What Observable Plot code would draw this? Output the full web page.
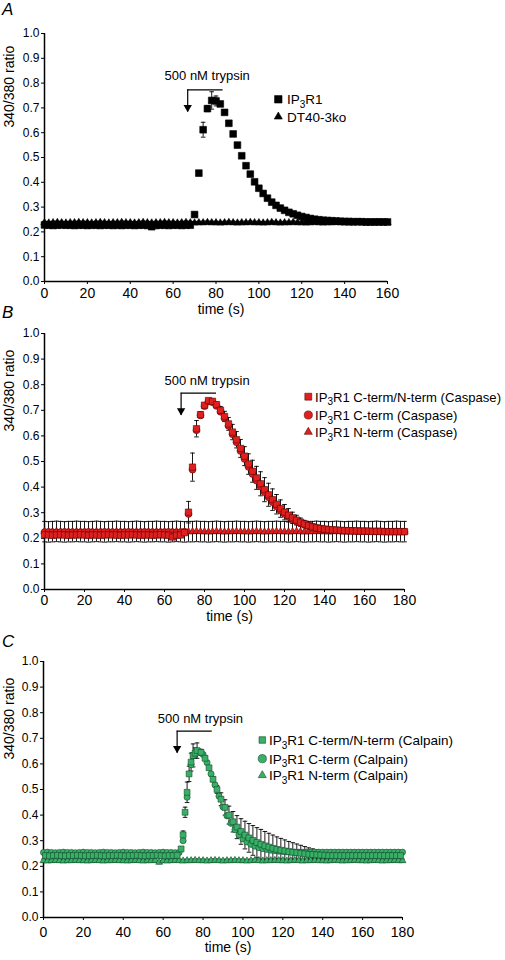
<!DOCTYPE html>
<html><head><meta charset="utf-8">
<script src="https://cdn.jsdelivr.net/npm/d3@7"></script>
<script src="https://cdn.jsdelivr.net/npm/@observablehq/plot@0.6"></script>
<style>
body{margin:0;background:#fff;}
#chart{position:relative;width:505px;height:960px;overflow:hidden;font-family:"Liberation Sans",Arial,sans-serif;}
#chart svg{position:absolute;left:0;}
</style></head><body><div id="chart"></div>
<script>
// ---------- shared ticks ----------
const yTicks = [0.0,0.1,0.2,0.3,0.4,0.5,0.6,0.7,0.8,0.9,1.0];
const xTicksA = [0,20,40,60,80,100,120,140,160];
const xTicksBC = [0,20,40,60,80,100,120,140,160,180];

// ---------- Panel A (time 0..160 s, every 2 s) ----------
const timeA = d3.range(0, 161, 2);
const ip3r1A = [0.228,0.227,0.226,0.227,0.228,0.227,0.227,0.226,0.227,0.227,
 0.226,0.227,0.227,0.226,0.227,0.227,0.226,0.227,0.226,0.227,
 0.227,0.226,0.227,0.227,0.226,0.221,0.226,0.227,0.227,0.226,
 0.227,0.227,0.226,0.227,0.227,
 0.270,0.437,0.612,0.697,0.730,0.728,0.716,0.682,0.638,0.595,
 0.550,0.507,0.467,0.433,0.402,0.376,0.355,0.336,0.320,0.307,
 0.296,0.287,0.279,0.273,0.267,0.262,0.258,0.254,0.251,0.249,
 0.247,0.246,0.245,0.244,0.243,0.242,0.242,0.241,0.241,0.241,
 0.240,0.240,0.240,0.240,0.240,0.240];
const ip3r1ErrA = [0.004,0.004,0.004,0.004,0.004,0.004,0.004,0.004,0.004,0.004,
 0.004,0.004,0.004,0.004,0.004,0.004,0.004,0.004,0.004,0.004,
 0.004,0.004,0.004,0.004,0.004,0.004,0.004,0.004,0.004,0.004,
 0.004,0.004,0.004,0.004,0.004,
 0.006,0.010,0.030,0.012,0.035,0.020,0.010,0.008,0.008,0.006,
 0.006,0.006,0.006,0.006,0.006,0.006,0.006,0.006,0.006,0.006,
 0.005,0.005,0.005,0.005,0.005,0.005,0.005,0.005,0.005,0.005,
 0.004,0.004,0.004,0.004,0.004,0.004,0.004,0.004,0.004,0.004,
 0.004,0.004,0.004,0.004,0.004,0.004];
const dt40A = [0.237,0.236,0.237,0.238,0.237,0.236,0.237,0.237,0.238,0.237,
 0.237,0.236,0.237,0.238,0.237,0.236,0.237,0.237,0.238,0.237,
 0.237,0.236,0.237,0.238,0.237,0.236,0.237,0.237,0.238,0.237,
 0.237,0.236,0.237,0.238,0.237,0.236,0.237,0.237,0.238,0.237,
 0.237,0.236,0.237,0.238,0.237,0.236,0.237,0.237,0.238,0.237,
 0.237,0.236,0.237,0.238,0.237,0.236,0.237,0.237,0.238,0.237,
 0.237,0.236,0.237,0.238,0.237,0.236,0.237,0.237,0.238,0.237,
 0.237,0.236,0.237,0.238,0.237,0.236,0.237,0.237,0.238,0.237,
 0.237];
const dt40ErrA = 0.006;

// ---------- Panel B (Caspase, time 0..180 s, every 2 s) ----------
const timeB = d3.range(0, 181, 2);
const cnB = [0.214,0.213,0.212,0.213,0.214,0.213,0.212,0.213,0.213,0.214,
 0.213,0.212,0.213,0.213,0.212,0.213,0.214,0.213,0.213,0.212,
 0.213,0.213,0.214,0.213,0.212,0.213,0.213,0.212,0.213,0.214,
 0.213,0.212,0.205,0.212,0.213,0.222,
 0.302,0.478,0.628,0.683,0.720,0.738,0.735,0.722,0.700,0.676,
 0.647,0.615,0.585,0.551,0.521,0.490,0.462,0.436,0.413,0.390,
 0.370,0.351,0.333,0.316,0.302,0.290,0.280,0.271,0.263,0.256,
 0.250,0.245,0.241,0.238,0.236,0.234,0.233,0.232,0.231,0.230,
 0.230,0.229,0.229,0.228,0.228,0.228,0.227,0.227,0.227,0.226,
 0.226,0.226,0.226,0.226,0.226];
const cnErrB = [0.005,0.005,0.005,0.005,0.005,0.005,0.005,0.005,0.005,0.005,
 0.005,0.005,0.005,0.005,0.005,0.005,0.005,0.005,0.005,0.005,
 0.005,0.005,0.005,0.005,0.005,0.005,0.005,0.005,0.005,0.005,
 0.005,0.005,0.005,0.005,0.005,0.005,
 0.042,0.055,0.032,0.012,0.008,0.008,0.008,0.010,0.015,0.020,
 0.025,0.030,0.032,0.035,0.037,0.040,0.043,0.045,0.047,0.047,
 0.045,0.042,0.038,0.034,0.030,0.026,0.022,0.019,0.016,0.014,
 0.012,0.011,0.010,0.009,0.008,0.008,0.008,0.008,0.008,0.008,
 0.008,0.008,0.008,0.008,0.008,0.008,0.008,0.008,0.008,0.008,
 0.008,0.008,0.008,0.008,0.008];
const ctB = [0.224,0.225,0.224,0.223,0.224,0.225,0.224,0.224,0.223,0.224,
 0.224,0.225,0.224,0.223,0.224,0.225,0.224,0.224,0.223,0.224,
 0.224,0.225,0.224,0.223,0.224,0.225,0.224,0.224,0.223,0.224,
 0.224,0.225,0.224,0.223,0.224,0.226,
 0.295,0.468,0.622,0.680,0.716,0.734,0.731,0.717,0.694,0.669,
 0.639,0.606,0.575,0.541,0.510,0.479,0.451,0.425,0.402,0.380,
 0.360,0.341,0.324,0.308,0.295,0.283,0.273,0.265,0.258,0.252,
 0.247,0.243,0.239,0.237,0.235,0.233,0.232,0.231,0.230,0.230,
 0.229,0.229,0.228,0.228,0.228,0.227,0.227,0.227,0.227,0.226,
 0.226,0.226,0.226,0.226,0.226];
const ctErrB = 0.006;
const ntB = [0.226,0.225,0.226,0.227,0.226,0.225,0.226,0.226,0.227,0.226,
 0.226,0.225,0.226,0.227,0.226,0.225,0.226,0.226,0.227,0.226,
 0.226,0.225,0.226,0.227,0.226,0.225,0.226,0.226,0.227,0.226,
 0.226,0.225,0.226,0.227,0.226,0.225,0.226,0.226,0.227,0.226,
 0.226,0.225,0.226,0.227,0.226,0.225,0.226,0.226,0.227,0.226,
 0.226,0.225,0.226,0.227,0.226,0.225,0.226,0.226,0.227,0.226,
 0.226,0.225,0.226,0.227,0.226,0.225,0.226,0.226,0.227,0.226,
 0.226,0.225,0.226,0.227,0.226,0.225,0.226,0.226,0.227,0.226,
 0.226,0.225,0.226,0.227,0.226,0.225,0.226,0.226,0.227,0.226,
 0.226];
const ntErrB = 0.040;

// ---------- Panel C (Calpain) ----------
const timeC = d3.range(0, 181, 2);      // circles, triangles
const timeSqC = [1,3,5,7,9,11,13,15,17,19,21,23,25,27,29,31,33,35,37,39,41,43,45,47,49,51,53,55,57,59,61,63,65,67,
 69,70,71,72,73,74,75,76,77,
 79,81,83,85,87,89,91,93,95,97,99,101,103,105,107,109,111,113,115,117,119,121,123,125,127,129,131,133,135,137,139,141,
 143,145,147,149,151,153,155,157,159,161,163,165,167,169,171,173,175,177,179];
const cnC = [0.242,0.241,0.242,0.243,0.242,0.241,0.242,0.242,0.243,0.242,
 0.241,0.242,0.242,0.243,0.242,0.241,0.242,0.242,0.243,0.242,
 0.241,0.242,0.242,0.243,0.242,0.241,0.242,0.242,0.243,0.242,
 0.241,0.242,0.242,0.243,
 0.268,0.323,0.411,0.489,0.561,0.607,0.633,0.642,0.652,
 0.645,0.622,0.585,0.540,0.500,0.462,0.430,0.400,0.374,0.353,
 0.336,0.322,0.311,0.301,0.293,0.286,0.280,0.275,0.270,0.266,
 0.263,0.260,0.257,0.255,0.253,0.251,0.249,0.247,0.246,0.245,
 0.244,0.243,
 0.242,0.242,0.242,0.242,0.242,0.242,0.242,0.242,0.242,0.242,
 0.242,0.242,0.242,0.242,0.242,0.242,0.242,0.242,0.242];
const cnErrC = [0.005,0.005,0.005,0.005,0.005,0.005,0.005,0.005,0.005,0.005,
 0.005,0.005,0.005,0.005,0.005,0.005,0.005,0.005,0.005,0.005,
 0.005,0.005,0.005,0.005,0.005,0.005,0.005,0.005,0.005,0.005,
 0.005,0.005,0.005,0.005,
 0.008,0.015,0.020,0.040,0.030,0.035,0.045,0.020,0.030,
 0.012,0.008,0.008,0.010,0.015,0.025,0.030,0.035,0.040,0.045,
 0.050,0.054,0.056,0.058,0.058,0.058,0.056,0.054,0.052,0.049,
 0.046,0.043,0.040,0.037,0.034,0.031,0.028,0.025,0.022,0.019,
 0.016,0.013,
 0.010,0.008,0.006,0.006,0.006,0.006,0.006,0.006,0.006,0.006,
 0.006,0.006,0.006,0.006,0.006,0.006,0.006,0.006,0.006];
const ctC = [0.254,0.255,0.254,0.253,0.254,0.255,0.254,0.254,0.253,0.254,
 0.255,0.254,0.254,0.253,0.254,0.255,0.254,0.254,0.253,0.254,
 0.255,0.254,0.254,0.253,0.254,0.255,0.254,0.254,0.253,0.254,
 0.255,0.254,0.254,0.253,0.254,
 0.300,0.470,0.597,0.636,0.648,0.637,0.605,0.561,0.518,0.474,
 0.432,0.397,0.368,0.343,0.323,0.307,0.295,0.286,0.279,0.273,
 0.269,0.266,0.263,0.261,0.259,0.258,0.257,0.256,
 0.255,0.255,0.255,0.255,0.255,0.255,0.255,0.255,0.255,0.255,
 0.255,0.255,0.255,0.255,0.255,0.255,0.255,0.255,0.255,0.255,
 0.255,0.255,0.255,0.255,0.255,0.255,0.255,0.255];
const ctErrC = 0.005;
const ntC = [0.222,0.221,0.222,0.223,0.222,0.221,0.222,0.222,0.223,0.222,
 0.222,0.221,0.222,0.223,0.222,0.221,0.222,0.222,0.223,0.222,
 0.222,0.221,0.222,0.223,0.222,0.221,0.222,0.222,0.223,0.216,
 0.222,0.221,0.222,0.223,0.222,0.221,0.222,0.222,0.223,0.222,
 0.222,0.221,0.222,0.223,0.222,0.221,0.222,0.222,0.223,0.222,
 0.222,0.221,0.222,0.223,0.222,0.221,0.222,0.222,0.223,0.222,
 0.222,0.221,0.222,0.223,0.222,0.221,0.222,0.222,0.223,0.222,
 0.222,0.221,0.222,0.223,0.222,0.221,0.222,0.222,0.223,0.222,
 0.222,0.221,0.222,0.223,0.222,0.221,0.222,0.222,0.223,0.222,
 0.222];
const ntErrC = 0.006;

// ---------- trypsin annotation (time in s, ratio units) ----------
const trypsinStart = [66.8, 68.3, 67.0];
const trypsinEnd   = [83.3, 86.0, 84.6];
const trypsinLevel = [0.773, 0.767, 0.728];
const trypsinTip   = [0.683, 0.680, 0.642];
const trypsinTextT = [75.9, 81.3, 78.7];
const trypsinTextV = [0.830, 0.816, 0.776];
const trypsinLabel = "500 nM trypsin";

// ---------- labels ----------
const panelLetters = ["A", "B", "C"];
const legendA = ["IP3R1", "DT40-3ko"];
const legendB = ["IP3R1 C-term/N-term (Caspase)", "IP3R1 C-term (Caspase)", "IP3R1 N-term (Caspase)"];
const legendC = ["IP3R1 C-term/N-term (Calpain)", "IP3R1 C-term (Calpain)", "IP3R1 N-term (Calpain)"];

const RED = "#e01f1f", REDS = "#5a0808", GRN = "#38b068", GRNS = "#124d2b";

const panels = [
  {top: 0, height: 330, ml: 44, mr: 118, mt: 33, mb: 49, xMax: 160, xTicks: xTicksA, xPad: 3.5, xLabDy: 32.5, ann: 0,
   series: [
     {name: legendA[1], t: timeA, v: dt40A, e: dt40ErrA, symbol: "triangle", r: 2.7, fill: "black", stroke: "black"},
     {name: legendA[0], t: timeA, v: ip3r1A, e: ip3r1ErrA, symbol: "square", r: 3.8, fill: "black", stroke: "black"}],
   legend: {x: 278.3, tx: 287, fs: 13.5, rows: [99.3, 116.7], items: [0, 1].map(i => ({label: legendA[i], symbol: ["square","triangle"][i], r: [4.2, 3.0][i], fill: "black", stroke: "black"}))}},
  {top: 300, height: 335, ml: 44, mr: 101, mt: 33, mb: 46, xMax: 180, xTicks: xTicksBC, xPad: 3, xLabDy: 31.5, ann: 1,
   series: [
     {name: legendB[2], t: timeB, v: ntB, e: ntErrB, symbol: "triangle", r: 2.7, fill: RED, stroke: REDS},
     {name: legendB[1], t: timeB, v: ctB, e: ctErrB, symbol: "circle", r: 3.4, fill: RED, stroke: REDS},
     {name: legendB[0], t: timeB, v: cnB, e: cnErrB, symbol: "square", r: 3.6, fill: RED, stroke: REDS}],
   legend: {x: 308.3, tx: 315, fs: 13.1, rows: [396.7, 415, 432], items: [0, 1, 2].map(i => ({label: legendB[i], symbol: ["square","circle","triangle"][i], r: [3.9, 4.1, 3.0][i], fill: RED, stroke: REDS}))}},
  {top: 630, height: 330, ml: 43, mr: 103, mt: 31, mb: 43, xMax: 180, xTicks: xTicksBC, xPad: 6.5, xLabDy: 34.5, ann: 2,
   series: [
     {name: legendC[2], t: timeC, v: ntC, e: ntErrC, symbol: "triangle", r: 2.6, fill: GRN, stroke: GRNS},
     {name: legendC[1], t: timeC, v: ctC, e: ctErrC, symbol: "circle", r: 3.1, fill: GRN, stroke: GRNS},
     {name: legendC[0], t: timeSqC, v: cnC, e: cnErrC, symbol: "square", r: 3.3, fill: GRN, stroke: GRNS}],
   legend: {x: 262.3, tx: 269, fs: 13.5, rows: [740, 758.7, 775.3], items: [0, 1, 2].map(i => ({label: legendC[i], symbol: ["square","circle","triangle"][i], r: [3.7, 4.1, 3.0][i], fill: GRN, stroke: GRNS}))}}
];

const capSymbol = {draw(ctx) { ctx.moveTo(-2.3, 0); ctx.lineTo(2.3, 0); }};
const chart = document.getElementById("chart");

panels.forEach(p => {
  const k = p.ann;
  const ann = [{start: trypsinStart[k], end: trypsinEnd[k], level: trypsinLevel[k], tip: trypsinTip[k], tt: trypsinTextT[k], tv: trypsinTextV[k]}];
  const marks = [
    Plot.ruleX([p.xTicks[0]], {stroke: "black", strokeWidth: 1.5}),
    Plot.ruleY([yTicks[0]], {stroke: "black", strokeWidth: 1.5}),
    Plot.axisY({ticks: yTicks, tickFormat: d3.format(".1f"), tickSize: 3, tickPadding: 2, fontSize: 12, label: null}),
    Plot.axisX({ticks: p.xTicks, tickFormat: d => String(d), tickSize: 3, tickPadding: p.xPad, fontSize: 14, label: null}),
    Plot.text(["340/380 ratio"], {frameAnchor: "left", rotate: -90, dx: -(p.ml - 9.5), dy: -30, fontSize: 14}),
    Plot.text(["time (s)"], {frameAnchor: "bottom", dx: 5, dy: p.xLabDy, fontSize: 14})
  ];
  const sets = p.series.map(s => s.t.map((t, i) => ({t, v: s.v[i], e: Array.isArray(s.e) ? s.e[i] : s.e})).filter(r => r.v != null));
  // error bars beneath all markers
  sets.forEach(d => {
    marks.push(Plot.ruleX(d, {x: "t", y1: r => r.v - r.e, y2: r => r.v + r.e, stroke: "black", strokeWidth: 0.9}));
    marks.push(Plot.dot(d, {x: "t", y: r => r.v + r.e, symbol: capSymbol, r: 1, fill: "none", stroke: "black", strokeWidth: 0.9}));
    marks.push(Plot.dot(d, {x: "t", y: r => r.v - r.e, symbol: capSymbol, r: 1, fill: "none", stroke: "black", strokeWidth: 0.9}));
  });
  p.series.forEach((s, i) => {
    marks.push(Plot.dot(sets[i], {x: "t", y: "v", symbol: s.symbol, r: s.r, fill: s.fill, stroke: s.stroke, strokeWidth: 0.6}));
  });
  marks.push(
    Plot.ruleY(ann, {y: "level", x1: "start", x2: "end", stroke: "black", strokeWidth: 1.2}),
    Plot.ruleX(ann, {x: "start", y1: "level", y2: "tip", stroke: "black", strokeWidth: 1.2}),
    Plot.dot(ann, {x: "start", y: "tip", symbol: "triangle", rotate: 180, r: 3.1, fill: "black", stroke: "none", dy: -4.8}),
    Plot.text(ann, {x: "tt", y: "tv", text: () => trypsinLabel, fontSize: 13})
  );
  const svg = Plot.plot({
    width: 505, height: p.height,
    marginLeft: p.ml, marginRight: p.mr, marginTop: p.mt, marginBottom: p.mb,
    x: {domain: [0, p.xMax], label: null},
    y: {domain: [0, 1], label: null},
    style: {fontFamily: "'Liberation Sans', Arial, sans-serif", background: "transparent", overflow: "visible", color: "black"},
    marks
  });
  svg.style.top = p.top + "px";
  chart.appendChild(svg);
});

// overlay: panel letters and legends
const ov = d3.select(chart).append("svg").attr("width", 505).attr("height", 960).style("top", "0px")
  .style("font-family", "'Liberation Sans', Arial, sans-serif");
const letterBase = [15, 318, 647];
panelLetters.forEach((L, i) => ov.append("text").attr("x", 2).attr("y", letterBase[i]).attr("font-size", 17).attr("font-style", "italic").text(L));
const symMap = {square: d3.symbolSquare, circle: d3.symbolCircle, triangle: d3.symbolTriangle};
panels.forEach(p => {
  const lg = p.legend;
  lg.items.forEach((it, j) => {
    const y = lg.rows[j];
    ov.append("path").attr("transform", `translate(${lg.x},${y})`)
      .attr("d", d3.symbol(symMap[it.symbol], Math.PI * it.r * it.r)())
      .attr("fill", it.fill).attr("stroke", it.stroke).attr("stroke-width", 0.6);
    const t = ov.append("text").attr("x", lg.tx).attr("y", y + 5).attr("font-size", lg.fs);
    if (it.label.startsWith("IP3R1")) {
      t.append("tspan").text("IP");
      t.append("tspan").attr("dy", 3.5).attr("font-size", 10).text("3");
      t.append("tspan").attr("dy", -3.5).text(it.label.slice(3));
    } else {
      t.text(it.label);
    }
  });
});
</script></body></html>
